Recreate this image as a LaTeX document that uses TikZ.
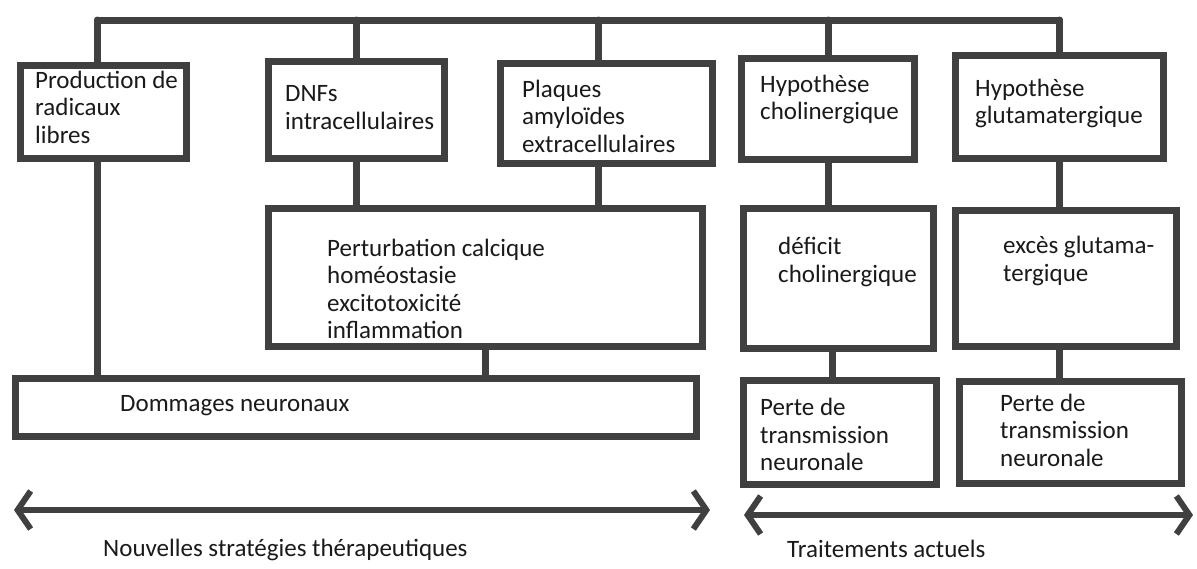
\documentclass[tikz,border=0pt]{standalone}
\usepackage{fontspec}
\setmainfont{Carlito}
\usetikzlibrary{arrows.meta}
\definecolor{trait}{HTML}{404040}
\definecolor{encre}{HTML}{1A1A1A}

\begin{document}
\begin{tikzpicture}[x=1pt,y=-1pt,
    boite/.style={draw=trait, line width=7pt, inner sep=0pt},
    texte/.style={text=encre, inner sep=0pt, anchor=west, align=left,
      font=\fontsize{25}{27.5}\selectfont},
    lien/.style={draw=trait, line width=7pt, line cap=round},
    fleche/.style={draw=trait, line width=6pt, line cap=round,
      {Straight Barb[length=13pt,width=38pt]}-{Straight Barb[length=13pt,width=38pt]}}]
    \fill[white] (0,0) rectangle (1197,568);
    \useasboundingbox (0,0) rectangle (1197,568);

    % causes
    \node[boite, minimum width=166, minimum height=93] (prod) at (103.5,112) {};
    \node[boite, minimum width=176, minimum height=97] (dnf) at (356.5,110) {};
    \node[boite, minimum width=212, minimum height=100] (plaq) at (606.5,113.5) {};
    \node[boite, minimum width=173, minimum height=101] (hypc) at (828,109) {};
    \node[boite, minimum width=208, minimum height=103] (hypg) at (1059.5,107) {};
    \node[texte] (prod-t) at (35,107) {Production de\\radicaux\\libres};
    \node[texte] (dnf-t) at (285,107.5) {DNFs\\intracellulaires};
    \node[texte] (plaq-t) at (522,116) {Plaques\\amyloïdes\\extracellulaires};
    \node[texte] (hypc-t) at (760,99.5) {Hypothèse\\cholinergique};
    \node[texte] (hypg-t) at (975,103.5) {Hypothèse\\glutamatergique};

    % consequences
    \node[boite, minimum width=434, minimum height=138] (pert) at (485.5,277.5) {};
    \node[boite, minimum width=681, minimum height=58] (domm) at (356,407.5) {};
    \node[boite, minimum width=190, minimum height=140] (defi) at (838.5,278.5) {};
    \node[boite, minimum width=221, minimum height=136] (exces) at (1066,278.5) {};
    \node[boite, minimum width=193, minimum height=104] (perte1) at (840,432.5) {};
    \node[boite, minimum width=222, minimum height=102] (perte2) at (1070.5,432.5) {};
    \node[texte] (pert-t) at (327,289) {Perturbation calcique\\homéostasie\\excitotoxicité\\inflammation};
    \node[texte] (domm-t) at (120,406) {Dommages neuronaux};
    \node[texte] (defi-t) at (778,262) {déficit\\cholinergique};
    \node[texte] (exces-t) at (1003,261) {excès glutama-\\tergique};
    \node[texte] (perte1-t) at (760,434.5) {Perte de\\transmission\\neuronale};
    \node[texte] (perte2-t) at (1000,430) {Perte de\\transmission\\neuronale};

    % rail du haut
    \coordinate (rail) at (0,20);
    \coordinate (prod-h) at ([xshift=-6]prod.north);
    \coordinate (plaq-h) at ([xshift=-8]plaq.north);
    \draw[lien] (prod-h |- rail) -- (hypg.north |- rail);
    \foreach \b in {prod-h,dnf.north,plaq-h,hypc.north,hypg.north}
      \draw[lien] (\b |- rail) -- (\b);

    % liens verticaux
    \draw[lien] (prod-h |- prod.south) -- (prod-h |- domm.north);
    \draw[lien] (dnf.south) -- (dnf.south |- pert.north);
    \draw[lien] (plaq-h |- plaq.south) -- (plaq-h |- pert.north);
    \draw[lien] (pert.south) -- (pert.south |- domm.north);
    \draw[lien] (hypc.south) -- (hypc.south |- defi.north);
    \draw[lien] (hypg.south) -- (hypg.south |- exces.north);
    \draw[lien] ([xshift=-6]defi.south) -- ([xshift=-6]defi.south |- perte1.north);
    \draw[lien] (exces.south -| hypg.south) -- (hypg.south |- perte2.north);

    % fleches
    \coordinate (f1g) at (14,510);
    \coordinate (f1d) at (710,510);
    \coordinate (f2g) at (744,515);
    \coordinate (f2d) at (1193,515);
    \draw[fleche] (f1g) -- (f1d);
    \draw[fleche] (f2g) -- (f2d);
    \node[texte] (nouv) at (103,550) {Nouvelles stratégies thérapeutiques};
    \node[texte] (trait) at (787,549) {Traitements actuels};
\end{tikzpicture}
\end{document}
